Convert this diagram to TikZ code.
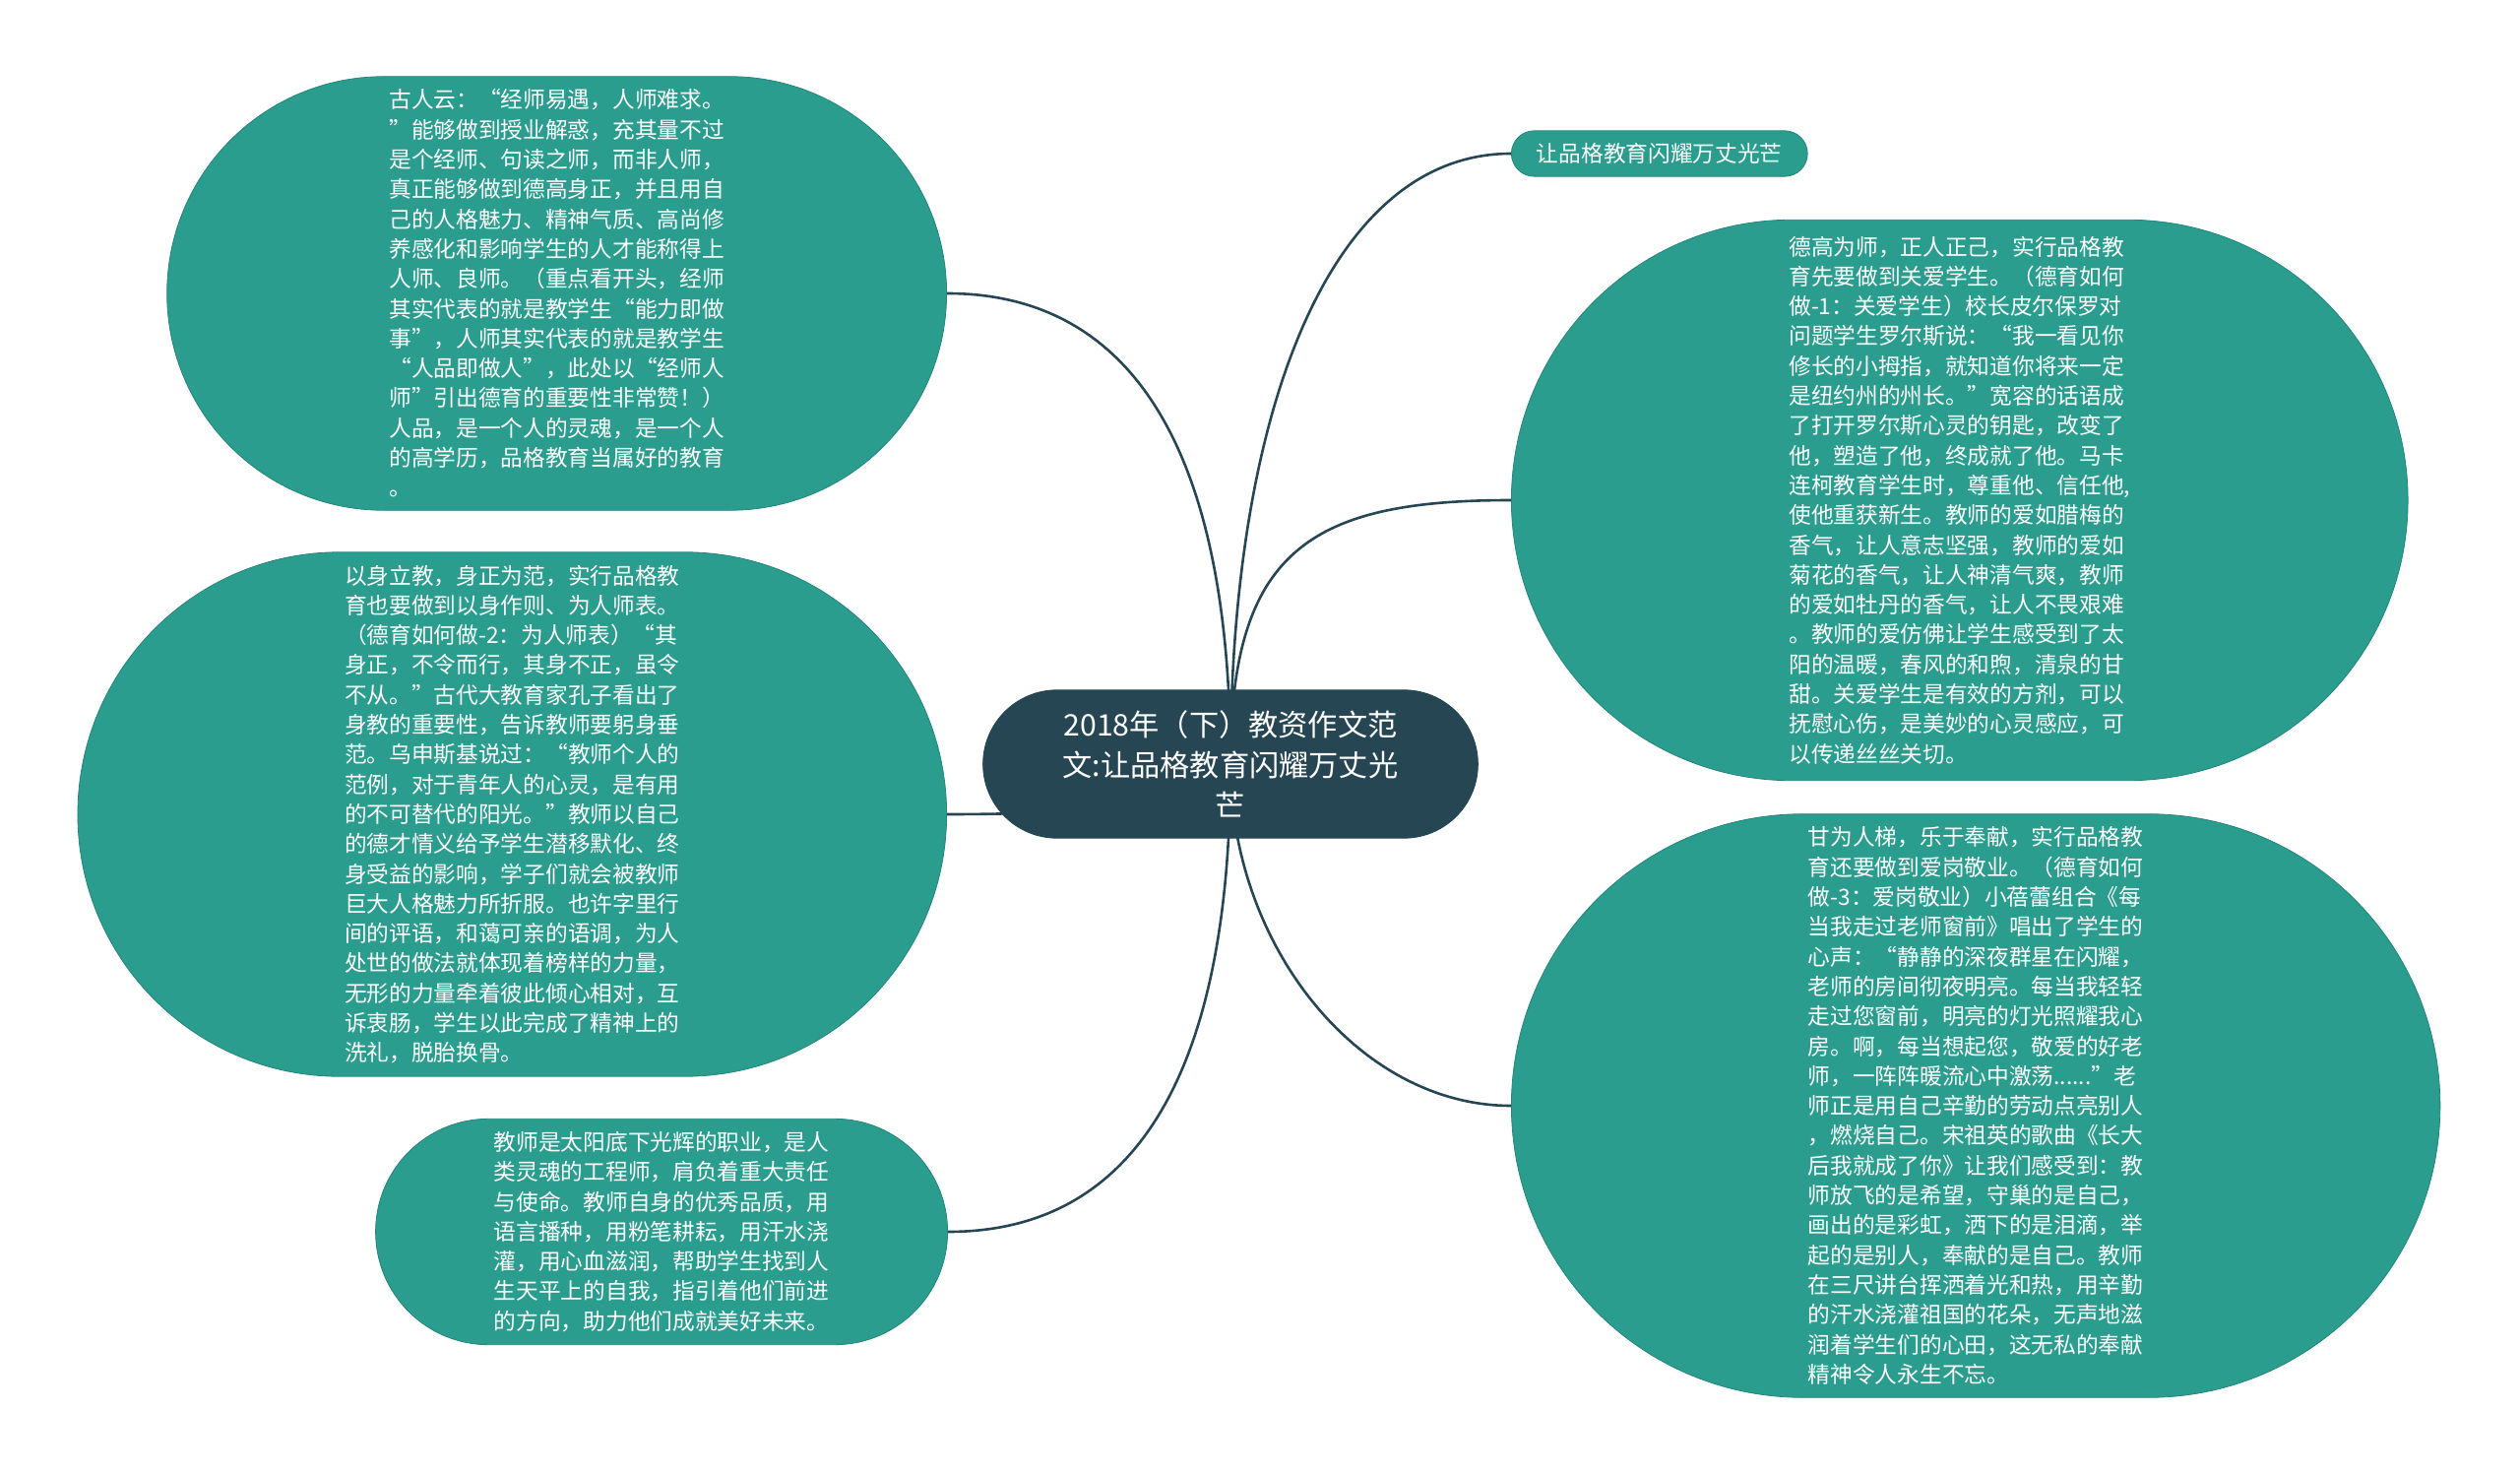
\documentclass[tikz,border=0pt]{standalone}
\usepackage{fontspec}
\setmainfont{Noto Sans CJK SC}
\usetikzlibrary{shapes.misc}
\definecolor{verde}{HTML}{2A9D8F}
\definecolor{pizarra}{HTML}{264653}
\pgfdeclarelayer{fondo}
\pgfsetlayers{fondo, main}
\tikzstyle{root}=[rounded rectangle,draw=pizarra,fill=pizarra,text=white,align=center,inner xsep=29pt,inner ysep=10.5pt,font=\fontsize{15.1}{20.5}\selectfont]
\tikzstyle{leaf}=[rounded rectangle,draw=verde!85!black,fill=verde,text=white,align=left,inner ysep=6.5pt,font=\fontsize{11.35}{15.15}\selectfont]
\tikzstyle{tag}=[leaf,inner xsep=11.5pt,inner ysep=6.3pt]
\tikzstyle{link}=[draw=pizarra,line width=1.3pt]

\begin{document}
\begin{tikzpicture}[x=0.5pt,y=-0.5pt]
		\useasboundingbox (0,0) rectangle (2560,1497);
		\node (r) at (1250,776) [root] {2018年（下）教资作文范\\文:让品格教育闪耀万丈光\\芒};
		\node (a) at (962,298) [leaf,anchor=east,inner xsep=40pt] {古人云：“经师易遇，人师难求。\\”能够做到授业解惑，充其量不过\\是个经师、句读之师，而非人师，\\真正能够做到德高身正，并且用自\\己的人格魅力、精神气质、高尚修\\养感化和影响学生的人才能称得上\\人师、良师。（重点看开头，经师\\其实代表的就是教学生“能力即做\\事”，人师其实代表的就是教学生\\“人品即做人”，此处以“经师人\\师”引出德育的重要性非常赞！）\\人品，是一个人的灵魂，是一个人\\的高学历，品格教育当属好的教育\\。};
		\node (b) at (962,827) [leaf,anchor=east,inner xsep=43.5pt] {以身立教，身正为范，实行品格教\\育也要做到以身作则、为人师表。\\（德育如何做-2：为人师表）“其\\身正，不令而行，其身不正，虽令\\不从。”古代大教育家孔子看出了\\身教的重要性，告诉教师要躬身垂\\范。乌申斯基说过：“教师个人的\\范例，对于青年人的心灵，是有用\\的不可替代的阳光。”教师以自己\\的德才情义给予学生潜移默化、终\\身受益的影响，学子们就会被教师\\巨大人格魅力所折服。也许字里行\\间的评语，和蔼可亲的语调，为人\\处世的做法就体现着榜样的力量，\\无形的力量牵着彼此倾心相对，互\\诉衷肠，学生以此完成了精神上的\\洗礼，脱胎换骨。};
		\node (c) at (963,1251) [leaf,anchor=east,inner xsep=29.3pt] {教师是太阳底下光辉的职业，是人\\类灵魂的工程师，肩负着重大责任\\与使命。教师自身的优秀品质，用\\语言播种，用粉笔耕耘，用汗水浇\\灌，用心血滋润，帮助学生找到人\\生天平上的自我，指引着他们前进\\的方向，助力他们成就美好未来。};
		\node (d) at (1535,156) [tag,anchor=west] {让品格教育闪耀万丈光芒};
		\node (e) at (1535,508) [leaf,anchor=west,inner xsep=46.5pt,inner ysep=8.3pt] {德高为师，正人正己，实行品格教\\育先要做到关爱学生。（德育如何\\做-1：关爱学生）校长皮尔保罗对\\问题学生罗尔斯说：“我一看见你\\修长的小拇指，就知道你将来一定\\是纽约州的州长。”宽容的话语成\\了打开罗尔斯心灵的钥匙，改变了\\他，塑造了他，终成就了他。马卡\\连柯教育学生时，尊重他、信任他,\\使他重获新生。教师的爱如腊梅的\\香气，让人意志坚强，教师的爱如\\菊花的香气，让人神清气爽，教师\\的爱如牡丹的香气，让人不畏艰难\\。教师的爱仿佛让学生感受到了太\\阳的温暖，春风的和煦，清泉的甘\\甜。关爱学生是有效的方剂，可以\\抚慰心伤，是美妙的心灵感应，可\\以传递丝丝关切。};
		\node (f) at (1535,1123) [leaf,anchor=west,inner xsep=46pt] {甘为人梯，乐于奉献，实行品格教\\育还要做到爱岗敬业。（德育如何\\做-3：爱岗敬业）小蓓蕾组合《每\\当我走过老师窗前》唱出了学生的\\心声：“静静的深夜群星在闪耀，\\老师的房间彻夜明亮。每当我轻轻\\走过您窗前，明亮的灯光照耀我心\\房。啊，每当想起您，敬爱的好老\\师，一阵阵暖流心中激荡......”老\\师正是用自己辛勤的劳动点亮别人\\，燃烧自己。宋祖英的歌曲《长大\\后我就成了你》让我们感受到：教\\师放飞的是希望，守巢的是自己，\\画出的是彩虹，洒下的是泪滴，举\\起的是别人，奉献的是自己。教师\\在三尺讲台挥洒着光和热，用辛勤\\的汗水浇灌祖国的花朵，无声地滋\\润着学生们的心田，这无私的奉献\\精神令人永生不忘。};
		
		\begin{pgfonlayer}{fondo}
			\draw [link] (r.center) .. controls +(0,-406) and +(127,0) .. (a.east);
			\draw [link] (r.center) .. controls +(0,43) and +(127,0) .. (b.east);
			\draw [link] (r.center) .. controls +(0,404) and +(127,0) .. (c.east);
			\draw [link] (r.center) .. controls +(0,-356) and +(-185,0) .. (d.west);
			\draw [link] (r.center) .. controls +(0,-216) and +(-205,0) .. (e.west);
			\draw [link] (r.center) .. controls +(0,184) and +(-155,0) .. (f.west);
		\end{pgfonlayer}
	\end{tikzpicture}
\end{document}
